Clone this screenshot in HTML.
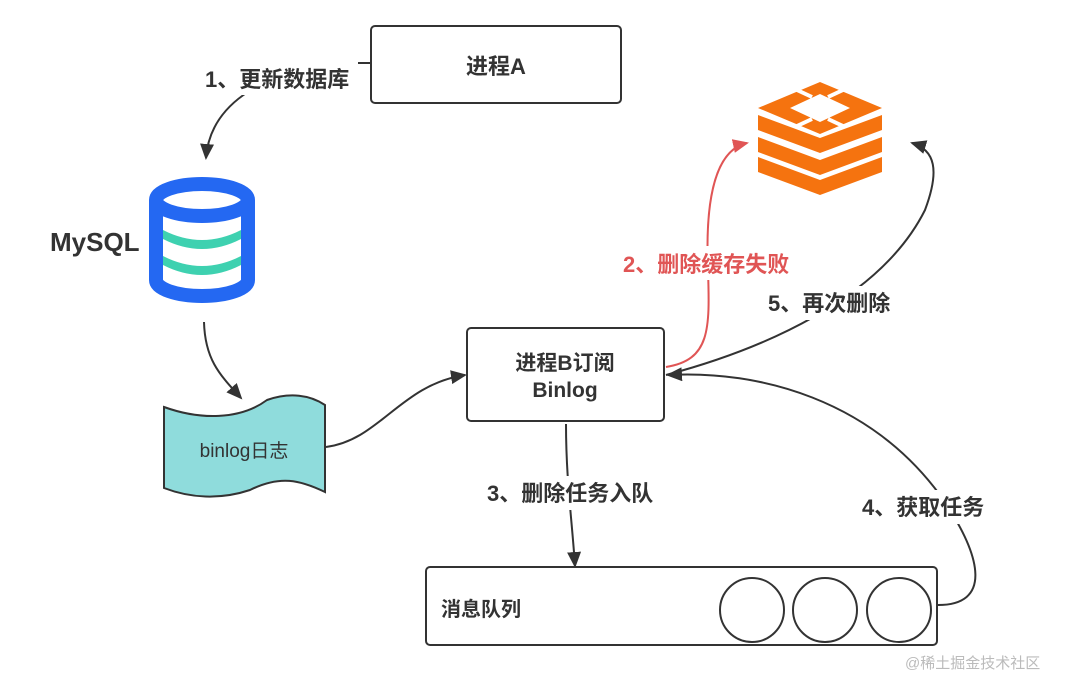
<!DOCTYPE html>
<html><head><meta charset="utf-8"><style>
html,body{margin:0;padding:0;background:#fff;}
svg{display:block;}
text{font-family:"Liberation Sans","Noto Sans CJK SC",sans-serif;font-weight:bold;fill:#333;}
</style></head><body>
<svg width="1069" height="678" viewBox="0 0 1069 678" xmlns="http://www.w3.org/2000/svg">
<defs>
<marker id="ab" markerWidth="16" markerHeight="14" refX="14" refY="7" orient="auto" markerUnits="userSpaceOnUse"><path d="M0,0 L16,7 L0,14 Z" fill="#333"/></marker>
<marker id="ar" markerWidth="16" markerHeight="14" refX="14" refY="7" orient="auto" markerUnits="userSpaceOnUse"><path d="M0,0 L16,7 L0,14 Z" fill="#e05555"/></marker>
</defs>
<g fill="#fff" stroke="#333" stroke-width="2">
<rect x="371" y="26" width="250" height="77" rx="4"/>
<rect x="467" y="328" width="197" height="93" rx="4"/>
<rect x="426" y="567" width="511" height="78" rx="4"/>
<circle cx="752" cy="610" r="32"/>
<circle cx="825" cy="610" r="32"/>
<circle cx="899" cy="610" r="32"/>
</g>
<text x="496" y="74" font-size="22" text-anchor="middle">进程A</text>
<text x="565" y="370" font-size="21" text-anchor="middle">进程B订阅</text>
<text x="565" y="397" font-size="21" text-anchor="middle">Binlog</text>
<text x="441" y="616" font-size="20">消息队列</text>
<text x="50" y="251" font-size="26">MySQL</text>
<!-- cylinder -->
<g>
<path d="M156,200 L156,280 A46,16 0 0 0 248,280 L248,200" fill="#fff" stroke="#2468f2" stroke-width="14"/>
<ellipse cx="202" cy="200" rx="46" ry="16" fill="#fff" stroke="#2468f2" stroke-width="14"/>
<path d="M163,230 Q202,250 241,230 L241,239 Q202,259 163,239 Z" fill="#3ed1b0"/>
<path d="M163,256 Q202,276 241,256 L241,265 Q202,285 163,265 Z" fill="#3ed1b0"/>
</g>
<!-- binlog -->
<path d="M164,407 C200,420 240,420 267,400 C290,392 310,395 325,405 L325,492 C300,480 280,475 250,490 C220,500 190,498 164,488 Z" fill="#8fdcdc" stroke="#333" stroke-width="2"/>
<text x="244" y="457" font-size="19" text-anchor="middle" style="font-weight:normal">binlog日志</text>
<!-- redis -->
<g fill="#f5730f">
<polygon points="758,115 820,138 882,115 882,130 820,153 758,130"/>
<polygon points="758,137 820,160 882,137 882,152 820,175 758,152"/>
<polygon points="758,157 820,180 882,157 882,172 820,195 758,172"/>
<polygon points="820,82 882,108 820,134 758,108"/>
<polygon points="820,94 850,108 820,122 790,108" fill="#fff"/>
<g stroke="#fff" stroke-width="4">
<line x1="797" y1="90" x2="812" y2="97"/>
<line x1="843" y1="90" x2="828" y2="97"/>
<line x1="797" y1="126" x2="812" y2="119"/>
<line x1="843" y1="126" x2="828" y2="119"/>
</g>
</g>
<!-- connectors -->
<g fill="none" stroke="#333" stroke-width="2">
<path d="M370,63 L330,63 C260,75 210,105 206,158" marker-end="url(#ab)"/>
<path d="M204,322 C205,360 220,375 241,398" marker-end="url(#ab)"/>
<path d="M326,447 C380,440 400,385 465,375" marker-end="url(#ab)"/>
<path d="M666,375 C760,350 880,300 925,210 C940,170 935,150 912,143" marker-end="url(#ab)"/>
<path d="M566,424 C566,480 572,520 575,566" marker-end="url(#ab)"/>
<path d="M938,605 C990,605 985,560 940,495 C870,400 760,370 668,375" marker-end="url(#ab)"/>
<path d="M666,367 C710,360 710,330 708,270 C705,200 715,150 747,143" stroke="#e05555" marker-end="url(#ar)"/>
</g>
<g font-size="22">
<rect x="200" y="61" width="158" height="34" fill="#fff"/>
<text x="205" y="87">1、更新数据库</text>
<rect x="618" y="246" width="182" height="34" fill="#fff"/>
<text x="623" y="272" style="fill:#e05555">2、删除缓存失败</text>
<rect x="764" y="286" width="134" height="34" fill="#fff"/>
<text x="768" y="311">5、再次删除</text>
<rect x="482" y="476" width="182" height="34" fill="#fff"/>
<text x="487" y="501">3、删除任务入队</text>
<rect x="858" y="490" width="134" height="34" fill="#fff"/>
<text x="862" y="515">4、获取任务</text>
</g>
<text x="905" y="668" font-size="15" style="font-weight:normal;fill:#bbb">@稀土掘金技术社区</text>
</svg>
</body></html>
